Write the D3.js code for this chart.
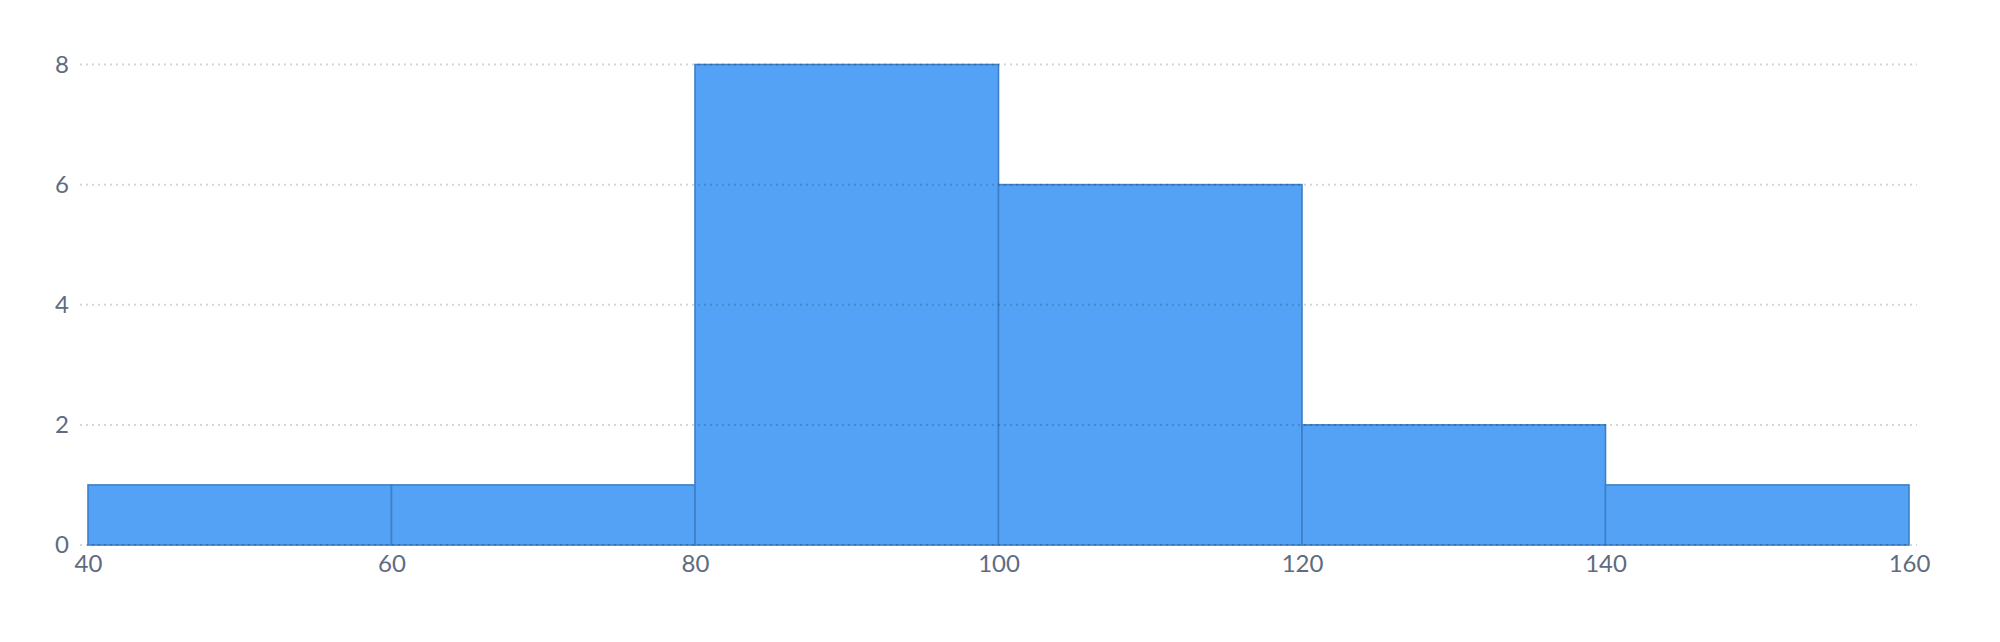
<!DOCTYPE html>
<html>
<head>
<meta charset="utf-8">
<script src="https://cdn.jsdelivr.net/npm/d3@7"></script>
<style>
  html, body { margin: 0; padding: 0; background: #fff; }
  svg { display: block; }
  svg text { font-family: Lato, "Open Sans", sans-serif; }
</style>
</head>
<body>
<svg id="chart" width="2000" height="642"></svg>
<script>
// Histogram bins (lower edge, upper edge) and their counts
const binStarts = [40, 60, 80, 100, 120, 140];
const binEnds = [60, 80, 100, 120, 140, 160];
const counts = [1, 1, 8, 6, 2, 1];

const xTicks = [40, 60, 80, 100, 120, 140, 160];
const yTicks = [0, 2, 4, 6, 8];

const bins = binStarts.map((s, i) => ({ x0: s, x1: binEnds[i], n: counts[i] }));

const svg = d3.select("#chart");
const margin = { top: 64.5, right: 91, bottom: 97, left: 88 };
const width = 2000 - margin.left - margin.right;
const height = 642 - margin.top - margin.bottom;

const x = d3.scaleLinear().domain([40, 160]).range([margin.left, margin.left + width]);
const y = d3.scaleLinear().domain([0, 8]).range([margin.top + height, margin.top]);

const textColor = "#5f6b7e";

// Bars
svg.append("g")
    .selectAll("rect")
    .data(bins)
    .enter().append("rect")
    .attr("x", d => x(d.x0))
    .attr("y", d => y(d.n))
    .attr("width", d => x(d.x1) - x(d.x0))
    .attr("height", d => y(0) - y(d.n))
    .attr("fill", "#53a2f6")
    .attr("stroke", "#3d7fc8")
    .attr("stroke-width", 1.6);

// Dotted horizontal grid, drawn on top of the bars
svg.append("g")
    .selectAll("line")
    .data(yTicks)
    .enter().append("line")
    .attr("x1", x(40) - 8)
    .attr("x2", x(160) + 8)
    .attr("y1", d => y(d))
    .attr("y2", d => y(d))
    .attr("stroke", "rgba(0,0,0,0.16)")
    .attr("stroke-width", 2)
    .attr("stroke-dasharray", "2,4");

// Y axis labels
const yAxis = svg.append("g")
    .attr("transform", `translate(${x(40) - 19},0)`)
    .call(d3.axisLeft(y).tickValues(yTicks).tickSize(0).tickPadding(0));
yAxis.select(".domain").remove();
yAxis.selectAll("text")
    .attr("fill", textColor)
    .attr("font-family", "Lato, sans-serif")
    .attr("font-size", 24);

// X axis labels
const xAxis = svg.append("g")
    .attr("transform", `translate(0,${y(0)})`)
    .call(d3.axisBottom(x).tickValues(xTicks).tickSize(0).tickPadding(10));
xAxis.select(".domain").remove();
xAxis.selectAll("text")
    .attr("fill", textColor)
    .attr("font-family", "Lato, sans-serif")
    .attr("font-size", 24);
</script>
</body>
</html>
